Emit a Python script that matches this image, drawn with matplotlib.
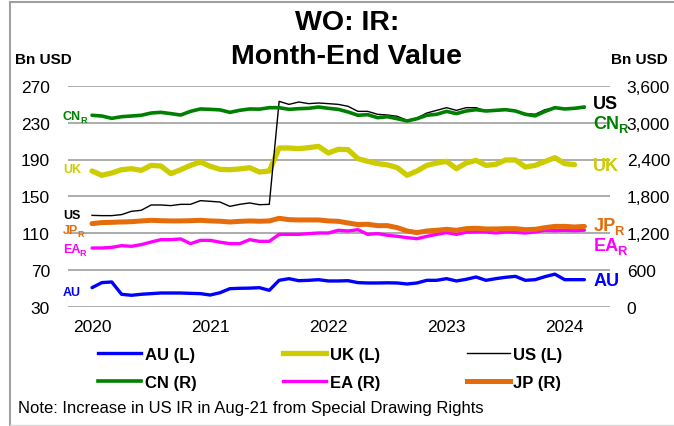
import numpy as np
import matplotlib
matplotlib.use("Agg")
import matplotlib.pyplot as plt
from matplotlib.lines import Line2D
from matplotlib.ticker import FuncFormatter

plt.rcParams['font.family'] = ['Liberation Sans', 'DejaVu Sans']

# ---------------- data (monthly, Jan-2020 .. Mar-2024) ----------------
years = ["2020", "2021", "2022", "2023", "2024"]
year_tick_months = [0, 12, 24, 36, 48]

# left axis (Bn USD)
au = [50.5, 56.0, 56.7, 43.3, 42.2, 43.3, 44.0, 44.7, 44.7, 44.7, 44.3, 44.0,
      42.5, 45.0, 49.4, 49.8, 50.0, 50.5, 47.6, 58.5, 60.3, 58.1, 58.5, 59.2,
      57.8, 57.8, 58.1, 56.0, 55.6, 55.6, 55.8, 55.6, 54.5, 55.6, 58.5, 58.5,
      60.3, 57.8, 59.6, 62.1, 58.5, 60.3, 61.8, 62.8, 58.5, 59.2, 62.5, 65.2,
      59.2, 59.2, 59.2]
uk = [177.5, 172.8, 175.3, 178.9, 180.0, 178.2, 183.6, 182.9, 174.6, 178.9, 183.6, 187.3,
      182.6, 179.3, 178.9, 179.7, 181.1, 176.4, 177.5, 202.5, 202.5, 201.8, 202.9, 204.3,
      197.1, 201.1, 200.7, 190.9, 188.0, 185.5, 184.2, 181.1, 172.8, 177.5, 183.6, 186.2,
      188.0, 180.0, 186.2, 189.1, 183.6, 184.7, 189.5, 189.5, 181.8, 183.6, 187.8, 192.0,
      185.5, 184.4]
us = [129.2, 128.9, 128.9, 130.0, 133.6, 134.7, 140.5, 140.5, 139.8, 141.2, 141.2, 145.2,
      144.5, 143.7, 139.0, 141.2, 142.7, 140.8, 141.2, 253.3, 250.0, 252.6, 250.8, 251.5,
      250.8, 250.0, 247.9, 242.4, 242.4, 239.2, 238.4, 237.0, 232.6, 235.2, 240.6, 243.5,
      246.4, 243.5, 246.4, 246.4, 242.8, 243.5, 244.5, 243.0, 240.0, 239.2, 244.2, 246.4,
      245.3, 245.3, 246.0]

# right axis (Bn USD)
cn = [3122, 3110, 3072, 3099, 3110, 3122, 3159, 3170, 3149, 3126, 3186, 3225,
      3219, 3210, 3170, 3203, 3225, 3222, 3246, 3246, 3219, 3230, 3236, 3257,
      3236, 3219, 3176, 3122, 3132, 3083, 3098, 3066, 3029, 3066, 3122, 3138,
      3186, 3149, 3192, 3213, 3192, 3203, 3213, 3192, 3138, 3113, 3185, 3246,
      3225, 3236, 3257]
ea = [955, 955, 966, 993, 983, 1010, 1053, 1091, 1091, 1103, 1026, 1080,
      1080, 1050, 1026, 1026, 1091, 1064, 1064, 1178, 1178, 1178, 1190, 1200,
      1200, 1244, 1233, 1254, 1178, 1190, 1163, 1146, 1124, 1107, 1146, 1178,
      1206, 1178, 1211, 1217, 1217, 1200, 1217, 1211, 1200, 1217, 1244, 1238,
      1244, 1238, 1245]
jp = [1353, 1370, 1374, 1380, 1385, 1397, 1407, 1401, 1397, 1397, 1401, 1407,
      1397, 1392, 1380, 1390, 1397, 1392, 1397, 1440, 1418, 1413, 1413, 1413,
      1397, 1391, 1364, 1337, 1343, 1320, 1320, 1287, 1233, 1206, 1233, 1244,
      1260, 1244, 1271, 1277, 1266, 1266, 1271, 1271, 1254, 1260, 1287, 1308,
      1308, 1298, 1308]

left_ticks = [30, 70, 110, 150, 190, 230, 270]
right_ticks = [0, 600, 1200, 1800, 2400, 3000, 3600]

# ---------------- styling ----------------
C_AU, C_UK, C_US = '#0000FF', '#CCCC00', '#000000'
C_CN, C_EA, C_JP = '#008000', '#FF00FF', '#E46C0A'

W, H = 674, 427
fig = plt.figure(figsize=(W / 100, H / 100), dpi=100)

ax = fig.add_axes([68 / W, 1 - 307.5 / H, 542 / W, 220.5 / H])
ax2 = ax.twinx()

m_au = np.arange(len(au))
m_uk = np.arange(len(uk))
m_us = np.arange(len(us))
m_r = np.arange(len(cn))

ax.plot(m_au, au, color=C_AU, lw=2.4, solid_capstyle='round')
ax.plot(m_uk, uk, color=C_UK, lw=3.8, solid_capstyle='round')
ax.plot(m_us, us, color=C_US, lw=1.0)

ax2.plot(m_r, ea, color=C_EA, lw=2.4, solid_capstyle='round')
ax2.plot(m_r, jp, color=C_JP, lw=3.6, solid_capstyle='round')
ax2.plot(m_r, cn, color=C_CN, lw=2.6, solid_capstyle='round')

ax.set_xlim(-2.44, 52.6)
ax.set_ylim(30, 270)
ax2.set_ylim(0, 3600)
ax.set_yticks(left_ticks)
ax2.set_yticks(right_ticks)
ax2.yaxis.set_major_formatter(FuncFormatter(lambda v, p: f"{v:,.0f}"))
ax.set_xticks(year_tick_months, years)

ax.grid(axis='y', color='#A6A6A6', lw=1.3)
ax.grid(axis='x', visible=False)
ax.set_axisbelow(True)
for a in (ax, ax2):
    for s in a.spines.values():
        s.set_visible(False)

ax.tick_params(axis='y', length=0, pad=13, labelsize=12.5)
ax2.tick_params(axis='y', length=0, pad=12, labelsize=12.5)
ax.tick_params(axis='x', length=0, pad=9, labelsize=12.5)


def lab(x, y, main, color, size, sub=None):
    t = ax.text(x, y, main, color=color, fontsize=size, fontweight='bold',
                ha='left', va='center', clip_on=False, zorder=5)
    if sub:
        ax.annotate(sub, xy=(1, 0), xycoords=t, xytext=(-0.8, -0.17 * size),
                    textcoords='offset points', fontsize=size * 0.72,
                    fontweight='bold', color=color, ha='left', va='bottom',
                    annotation_clip=False, zorder=5)


# left-side labels
xl = -2.95
lab(xl, 237.6, "CN", C_CN, 9, "R")
lab(xl, 179.2, "UK", C_UK, 9)
lab(xl, 130.0, "US", C_US, 9)
lab(xl, 113.2, "JP", C_JP, 9, "R")
lab(xl, 92.5, "EA", C_EA, 9, "R")
lab(xl, 45.6, "AU", C_AU, 9)

# right-side labels
xr = 50.9
lab(xr, 250.6, "US", C_US, 13)
lab(xr, 228.8, "CN", C_CN, 13, "R")
lab(xr, 183.0, "UK", C_UK, 13)
lab(xr, 118.1, "JP", C_JP, 13, "R")
lab(xr, 96.3, "EA", C_EA, 13, "R")
lab(xr, 58.0, "AU", C_AU, 13)

# titles
fig.text(347 / W, 1 - 23 / H, "WO: IR:", fontsize=20.5, fontweight='bold',
         ha='center', va='center')
fig.text(347 / W, 1 - 57 / H, "Month-End Value", fontsize=20.5, fontweight='bold',
         ha='center', va='center')
fig.text(15 / W, 1 - 60 / H, "Bn USD", fontsize=11, fontweight='bold',
         ha='left', va='center')
fig.text(668 / W, 1 - 60 / H, "Bn USD", fontsize=11, fontweight='bold',
         ha='right', va='center')

# legend
names = ["AU (L)", "CN (R)", "UK (L)", "EA (R)", "US (L)", "JP (R)"]
cols = [C_AU, C_CN, C_UK, C_EA, C_US, C_JP]
lws = [2.4, 2.6, 3.8, 2.4, 1.0, 3.6]
handles = [Line2D([], [], color=c, lw=w) for c, w in zip(cols, lws)]
fig.legend(handles, names, ncol=3, loc='upper left',
           bbox_to_anchor=(98 / W, 1 - 348 / H), frameon=False,
           prop={'weight': 'bold', 'size': 12}, handlelength=2.6,
           handletextpad=0.2, columnspacing=5.2, labelspacing=0.78,
           borderpad=0, borderaxespad=0)

fig.text(18 / W, 1 - 409 / H,
         "Note: Increase in US IR in Aug-21 from Special Drawing Rights",
         fontsize=12, ha='left', va='center')

# frame
fig.add_artist(Line2D([10 / W, 10 / W], [1 - 2.5 / H, 1 - 426 / H],
                      color='#A0A0A0', lw=1.5, transform=fig.transFigure))
fig.add_artist(Line2D([10 / W, 1], [1 - 2.5 / H, 1 - 2.5 / H],
                      color='#A0A0A0', lw=1.5, transform=fig.transFigure))
fig.add_artist(Line2D([10 / W, 1], [1 - 426 / H, 1 - 426 / H],
                      color='#D8D8D8', lw=1.0, transform=fig.transFigure))

fig.savefig("out.png", dpi=100)
